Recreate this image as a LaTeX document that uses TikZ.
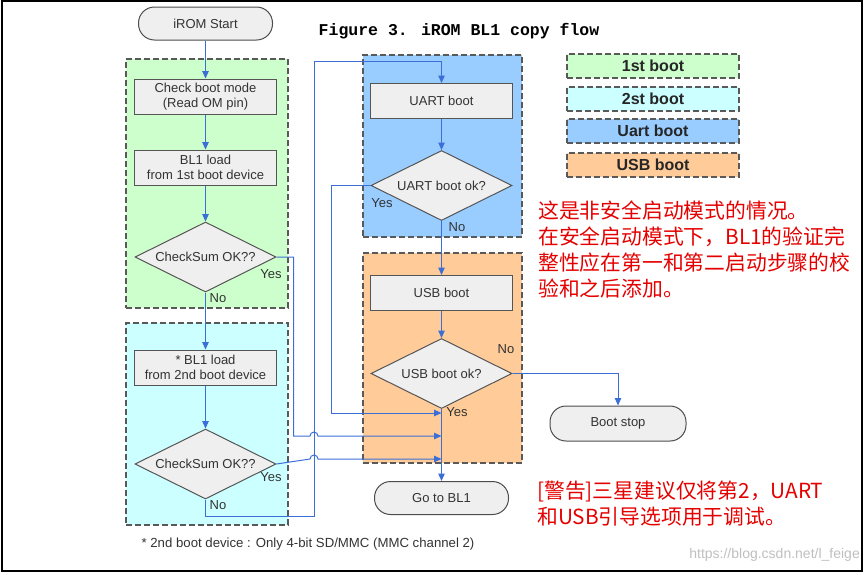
\documentclass[tikz,border=0pt]{standalone}
\usepackage{fontspec}
\setmainfont{Liberation Sans}
\newfontfamily\cjk{Noto Sans CJK SC}
\newfontfamily\titlefont{Liberation Mono}
\usetikzlibrary{arrows.meta,positioning,shapes.geometric}
\definecolor{flowblue}{HTML}{3C6FD6}
\definecolor{boxgray}{HTML}{EFEFEF}
\definecolor{edgegray}{HTML}{555555}
\definecolor{txtgray}{HTML}{333333}
\definecolor{firstfill}{HTML}{CCFFCC}
\definecolor{secondfill}{HTML}{CCFFFF}
\definecolor{uartfill}{HTML}{99CCFF}
\definecolor{usbfill}{HTML}{FFCC99}
\tikzset{
  box/.style={draw=edgegray, fill=boxgray, line width=1pt, align=center, text=txtgray, font=\fontsize{13}{15}\selectfont, minimum width=142pt, minimum height=35pt, inner sep=2pt},
  term/.style={box, rounded corners=16pt, minimum width=134pt, minimum height=33pt, draw=black!70},
  decide/.style={box, diamond, aspect=2, inner sep=0pt, minimum width=141pt, minimum height=70pt},
  group/.style={draw=black!65, dash pattern=on 6pt off 3pt, line width=1.5pt, inner sep=0pt},
  legend/.style={group, minimum width=172pt, minimum height=24pt, font=\bfseries\fontsize{16}{18}\selectfont, text=black!85},
  arrow/.style={-{Triangle[length=7.5pt,width=6.5pt]}, draw=flowblue, line width=1pt},
  lbl/.style={text=txtgray, font=\fontsize{13}{15}\selectfont, inner sep=0pt},
  note/.style={text=red!90!black, font=\cjk\fontsize{20.8}{26}\selectfont, align=left, inner sep=0pt},
}
\begin{document}
\begin{tikzpicture}[x=1pt, y=-1pt]
  \useasboundingbox (0,0) rectangle (867,574);
  \draw[line width=1.5pt] (2,1) rectangle (862,571);

  % boot stage groups
  \node[group, fill=firstfill, minimum width=162pt, minimum height=249pt] (grpfirst) at (207,183.5) {};
  \node[group, fill=secondfill, minimum width=162pt, minimum height=202pt] (grpsecond) at (207,424) {};
  \node[group, fill=uartfill, minimum width=159pt, minimum height=182pt] (grpuart) at (442.5,146) {};
  \node[group, fill=usbfill, minimum width=159pt, minimum height=210pt] (grpusb) at (442.5,358) {};

  % legend
  \node[legend, fill=firstfill] (keyfirst) at (653,66) {1st boot};
  \node[legend, fill=secondfill] (keysecond) at (653,99) {2st boot};
  \node[legend, fill=uartfill] (keyuart) at (653,131) {Uart boot};
  \node[legend, fill=usbfill] (keyusb) at (653,165) {USB boot};

  \node[font=\titlefont\bfseries\fontsize{16.5}{18}\selectfont] (title) at (459,31) {Figure 3. iROM BL1 copy flow};

  % left column
  \node[term] (start) at (205.5,23.5) {iROM Start};
  \node[box, below=38pt of start] (check) {Check boot mode\\(Read OM pin)};
  \node[box, below=35pt of check] (loadfirst) {BL1 load\\from 1st boot device};
  \node[decide, below=36pt of loadfirst] (sumfirst) {CheckSum OK??};
  \node[box, below=57pt of sumfirst] (loadsecond) {* BL1 load\\from 2nd boot device};
  \node[decide, below=43pt of loadsecond] (sumsecond) {CheckSum OK??};

  % right column
  \node[box] (uart) at (441.5,101) {UART boot};
  \node[decide, below=31pt of uart] (uartok) {UART boot ok?};
  \node[box, below=54pt of uartok] (usb) {USB boot};
  \node[decide, below=27pt of usb] (usbok) {USB boot ok?};
  \node[term, below=72pt of usbok] (gobl) {Go to BL1};
  \node[term, minimum width=136pt, minimum height=35pt] (stop) at (618,423.5) {Boot stop};

  \node[lbl, font=\fontsize{13.2}{15}\selectfont] (foot) at (308,544) {* 2nd boot device : Only 4-bit SD/MMC (MMC channel 2)};

  % branch labels
  \node[lbl] (yesfirst) at (271,274) {Yes};
  \node[lbl] (nofirst) at (218,298) {No};
  \node[lbl] (yessecond) at (271,477) {Yes};
  \node[lbl] (nosecond) at (218,505) {No};
  \node[lbl] (yesuart) at (382,203) {Yes};
  \node[lbl] (nouart) at (457,227) {No};
  \node[lbl] (nousb) at (506,349) {No};
  \node[lbl] (yesusb) at (457,412) {Yes};

  \coordinate (nobend) at (314,516);
  \coordinate (notop) at (314,61);
  \coordinate (joinuart) at (441.5,413);
  \coordinate (joinfirst) at (441.5,436);
  \coordinate (joinsecond) at (441.5,459);
  \coordinate (hopfirst) at (310,436);
  \coordinate (hopsecond) at (310,459);

  \draw[arrow] (start) -- (check);
  \draw[arrow] (check) -- (loadfirst);
  \draw[arrow] (loadfirst) -- (sumfirst);
  \draw[arrow] (sumfirst) -- (loadsecond);
  \draw[arrow] (loadsecond) -- (sumsecond);
  \draw[arrow] (sumsecond.south) |- (nobend) -- (notop) -| (uart.north);
  \draw[arrow] (uart) -- (uartok);
  \draw[arrow] (uartok) -- (usb);
  \draw[arrow] (usb) -- (usbok);
  \draw[arrow] (usbok) -- (gobl);
  \draw[arrow] (usbok.east) -| (stop.north);
  \draw[arrow] (uartok.west) -- ++(-39,0) |- (joinuart);
  \draw[arrow] (sumfirst.east) -- ++(17,0) |- (hopfirst) arc[start angle=180, end angle=0, radius=4pt] -- (joinfirst);
  \draw[arrow] (sumsecond.east) -- (hopsecond) arc[start angle=180, end angle=0, radius=4pt] -- (joinsecond);

  % notes
  \node[note, anchor=west] (info) at (538,249.5) {这是非安全启动模式的情况。\\在安全启动模式下，BL1的验证完\\整性应在第一和第二启动步骤的校\\验和之后添加。};
  \node[note, anchor=west] (warn) at (537,503.5) {[警告]三星建议仅将第2，UART\\和USB引导选项用于调试。};
  \node[text=black!25, font=\fontsize{14}{16}\selectfont, anchor=east, inner sep=0pt] (mark) at (860,555) {https://blog.csdn.net/l\_feige};
\end{tikzpicture}
\end{document}
